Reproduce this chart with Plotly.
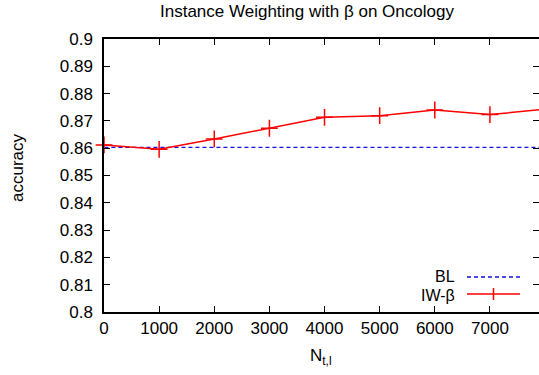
import plotly.graph_objects as go

# ---- data ----
n_tl = [0, 1000, 2000, 3000, 4000, 5000, 6000, 7000, 8000]
iw_beta = [0.8612, 0.8596, 0.8634, 0.8673, 0.8713, 0.8719, 0.8740, 0.8723, 0.8743]
bl_x = [-500, 8500]
bl_acc = [0.8603, 0.8603]
x_ticks = [0, 1000, 2000, 3000, 4000, 5000, 6000, 7000]
y_ticks = [0.8, 0.81, 0.82, 0.83, 0.84, 0.85, 0.86, 0.87, 0.88, 0.89, 0.9]
y_tick_text = ["0.8", "0.81", "0.82", "0.83", "0.84", "0.85", "0.86", "0.87", "0.88", "0.89", "0.9"]

W, H = 539, 375
L, R, T, B = 104, 539, 39, 312
FONT = "Liberation Sans, Arial, Helvetica, sans-serif"
FS = 17

def px(x):
    return (x - L) / (R - L)

def py(y):
    return (B - y) / (B - T)

fig = go.Figure()
fig.add_trace(go.Scatter(x=bl_x, y=bl_acc, mode="lines",
                         line=dict(color="#1010e0", width=1.3, dash="4px,3px"),
                         showlegend=False, hoverinfo="skip"))
fig.add_trace(go.Scatter(x=n_tl, y=iw_beta, mode="lines+markers",
                         line=dict(color="#ff0000", width=1.5),
                         marker=dict(symbol="cross-thin-open", size=12,
                                     line=dict(color="#ff0000", width=1.5)),
                         cliponaxis=False, showlegend=False))
# invisible trace to activate right-side ticks
fig.add_trace(go.Scatter(x=[0], y=[0.85], yaxis="y2", mode="markers",
                         marker=dict(opacity=0), showlegend=False, hoverinfo="skip"))

axis_font = dict(family=FONT, size=FS, color="black")
leg_font = dict(family=FONT, size=16, color="black")
fig.update_layout(
    width=W, height=H,
    margin=dict(l=L, r=W - R, t=T, b=H - B, pad=0),
    paper_bgcolor="white", plot_bgcolor="white",
    font=axis_font,
    xaxis=dict(range=[0, 7890], tickvals=x_ticks, ticks="inside", ticklen=6,
               tickcolor="black", tickwidth=1, showline=True, linecolor="black",
               linewidth=1.5, mirror="ticks", showgrid=False, zeroline=False,
               tickfont=axis_font),
    yaxis=dict(range=[0.8, 0.9], tickvals=y_ticks, ticktext=y_tick_text,
               ticks="inside", ticklen=6, tickcolor="black", tickwidth=1,
               showline=True, linecolor="black", linewidth=1.5, showgrid=False,
               zeroline=False, tickfont=axis_font, ticklabelstandoff=6),
    yaxis2=dict(range=[0.8, 0.9], tickvals=y_ticks, overlaying="y", side="right",
                ticks="inside", ticklen=6, tickcolor="black", showticklabels=False,
                showline=False, showgrid=False, zeroline=False),
)

ann = []
ann.append(dict(text="Instance Weighting with β on Oncology", x=px(306.5), y=py(12),
                xref="paper", yref="paper", showarrow=False, xanchor="center",
                yanchor="middle", font=axis_font))
ann.append(dict(text="accuracy", x=px(17), y=py(168), xref="paper", yref="paper",
                showarrow=False, textangle=-90, xanchor="center", yanchor="middle",
                font=axis_font))
ann.append(dict(text="N<sub>t,l</sub>", x=px(321), y=py(357), xref="paper", yref="paper",
                showarrow=False, xanchor="center", yanchor="middle", font=axis_font))
ann.append(dict(text="BL", x=px(456), y=py(276), xref="paper", yref="paper",
                showarrow=False, xanchor="right", yanchor="middle", font=leg_font,
                borderpad=0))
ann.append(dict(text="IW-β", x=px(456), y=py(295), xref="paper", yref="paper",
                showarrow=False, xanchor="right", yanchor="middle", font=leg_font,
                borderpad=0))
fig.update_layout(annotations=ann)

shapes = [
    dict(type="line", xref="paper", yref="paper", x0=px(467), x1=px(520),
         y0=py(277), y1=py(277), line=dict(color="#1010e0", width=1.3, dash="4px,3px")),
    dict(type="line", xref="paper", yref="paper", x0=px(467), x1=px(520),
         y0=py(294), y1=py(294), line=dict(color="#ff0000", width=1.5)),
    dict(type="line", xref="paper", yref="paper", x0=px(493.5), x1=px(493.5),
         y0=py(288), y1=py(300), line=dict(color="#ff0000", width=1.5)),
]
fig.update_layout(shapes=shapes)

fig.write_html("out.html")
